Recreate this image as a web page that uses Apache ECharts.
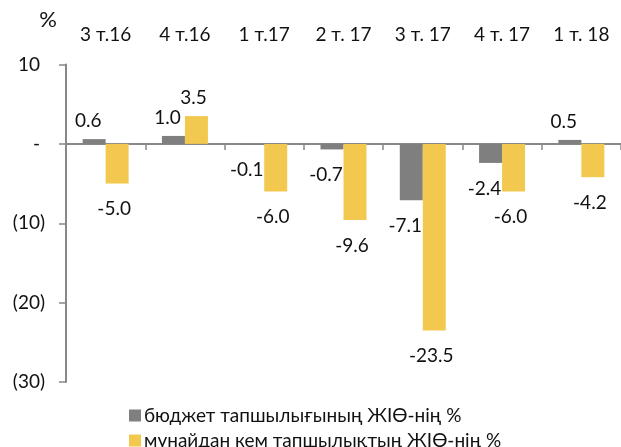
<!DOCTYPE html>
<html>
<head>
<meta charset="utf-8">
<script src="https://cdn.jsdelivr.net/npm/echarts@6/dist/echarts.min.js"></script>
<style>
  html, body { margin: 0; padding: 0; background: #fff; }
  #chart { width: 621px; height: 447px; }
</style>
</head>
<body>
<div id="chart"></div>
<script>
// Quarters shown across the top
var quarters = ['3 т.16', '4 т.16', '1 т.17', '2 т. 17', '3 т. 17', '4 т. 17', '1 т. 18'];
// Budget deficit, % of GDP
var budgetDeficit = [0.6, 1.0, -0.1, -0.7, -7.1, -2.4, 0.5];
// Non-oil deficit, % of GDP
var nonOilDeficit = [-5.0, 3.5, -6.0, -9.6, -23.5, -6.0, -4.2];
// Series names for the legend
var seriesNames = ['бюджет тапшылығының ЖІӨ-нің %', 'мұнайдан кем тапшылықтың ЖІӨ-нің %'];
// Value axis range and step
var yMin = -30, yMax = 10, yStep = 10;

var FONT = 'Lato, "Open Sans", "Noto Sans", sans-serif';
var FS = 19;
var INK = '#111111';

function labelled(values, dx) {
  return values.map(function (v) {
    return {
      value: v,
      label: {
        position: v >= 0 ? 'top' : 'bottom',
        distance: v >= 0 ? 9 : 16,
        offset: [dx, 0]
      }
    };
  });
}

var chart = echarts.init(document.getElementById('chart'), null, { renderer: 'canvas' });

chart.setOption({
  animation: false,
  textStyle: { fontFamily: FONT },
  grid: { left: 66, top: 64.5, width: 560, height: 317.5, containLabel: false },
  legend: {
    orient: 'vertical',
    left: 124,
    top: 401,
    height: 120,
    itemWidth: 12,
    itemHeight: 12,
    itemGap: 6,
    icon: 'rect',
    textStyle: { fontFamily: FONT, fontSize: FS, color: INK, padding: [0, 0, 0, -2] },
    data: seriesNames
  },
  xAxis: [
    {
      type: 'category',
      data: quarters,
      position: 'bottom',
      axisLine: { onZero: true, lineStyle: { color: '#888888', width: 2 } },
      axisTick: { show: true, length: 6, lineStyle: { color: '#888888', width: 1.5 } },
      axisLabel: { show: false }
    },
    {
      type: 'category',
      data: quarters,
      position: 'top',
      axisLine: { show: false },
      axisTick: { show: false },
      axisLabel: { fontFamily: FONT, fontSize: FS, color: INK, margin: 20 }
    }
  ],
  yAxis: {
    type: 'value',
    min: yMin,
    max: yMax,
    interval: yStep,
    name: '%',
    nameLocation: 'end',
    nameGap: 34,
    nameTextStyle: { fontFamily: FONT, fontSize: 22, color: INK, align: 'right', padding: [0, 9, 0, 0] },
    axisLine: { show: true, lineStyle: { color: '#888888', width: 2 } },
    axisTick: { show: true, length: 7, lineStyle: { color: '#888888', width: 1.5 } },
    splitLine: { show: false },
    axisLabel: {
      margin: 21,
      fontFamily: FONT,
      fontSize: FS,
      color: INK,
      formatter: function (v) {
        if (v === 0) return '{p|-}';
        if (v > 0) return '{p|' + v + '}';
        return '{n|(' + Math.abs(v) + ')}';
      },
      rich: {
        p: { fontFamily: FONT, fontSize: FS, color: INK, padding: [0, 5, 0, 0] },
        n: { fontFamily: FONT, fontSize: FS, color: INK }
      }
    }
  },
  series: [
    {
      name: seriesNames[0],
      type: 'bar',
      xAxisIndex: 0,
      barWidth: 23,
      barGap: 0,
      itemStyle: { color: '#7f7f7f' },
      label: {
        show: true,
        fontFamily: FONT,
        fontSize: FS,
        color: INK,
        formatter: function (p) { return p.value.toFixed(1); }
      },
      data: labelled(budgetDeficit, -6)
    },
    {
      name: seriesNames[1],
      type: 'bar',
      xAxisIndex: 0,
      barWidth: 23,
      barGap: 0,
      itemStyle: { color: '#f2c94e' },
      label: {
        show: true,
        fontFamily: FONT,
        fontSize: FS,
        color: INK,
        formatter: function (p) { return p.value.toFixed(1); }
      },
      data: labelled(nonOilDeficit, -3)
    }
  ]
});
</script>
</body>
</html>
